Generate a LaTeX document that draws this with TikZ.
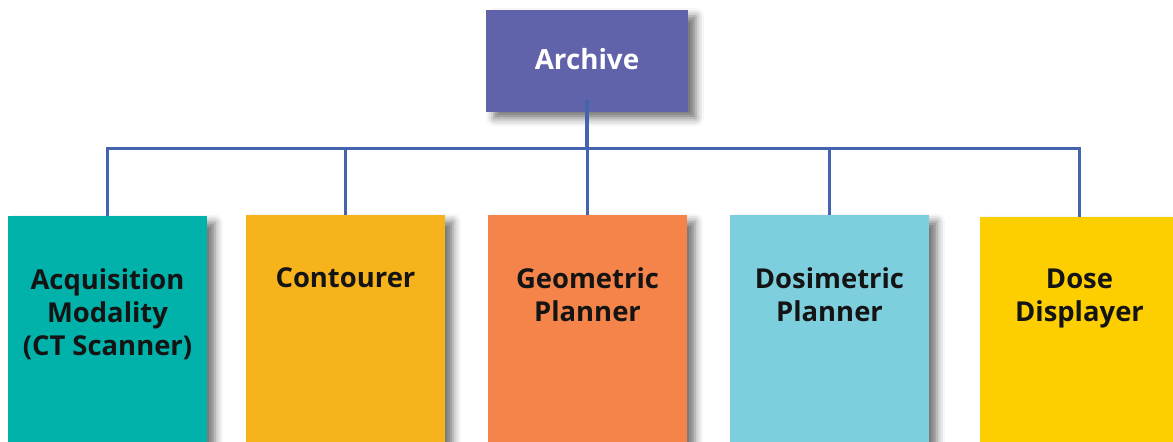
\documentclass[tikz,border=0pt]{standalone}
\usepackage{fontspec}
\setmainfont{Open Sans}
\usetikzlibrary{positioning,shadows.blur}

\definecolor{archblue}{HTML}{6163AA}
\definecolor{linkblue}{HTML}{4464AE}
\definecolor{acqteal}{HTML}{00B2A9}
\definecolor{contorange}{HTML}{F7B31C}
\definecolor{geoorange}{HTML}{F4844A}
\definecolor{dosicyan}{HTML}{7ECFDD}
\definecolor{doseyellow}{HTML}{FDCF00}

\tikzset{
  module/.style={rectangle, minimum width=3.98cm, minimum height=6cm, anchor=north, inner sep=0pt,
    blur shadow={shadow xshift=4.5pt, shadow yshift=-3.5pt, shadow blur radius=4.5pt, shadow opacity=55}},
  modlabel/.style={anchor=north, align=center, inner sep=0pt, text=black!92,
    font=\fontsize{15.6}{18.8}\selectfont\bfseries},
  link/.style={draw=linkblue, line width=1.8pt},
}

\begin{document}
\begin{tikzpicture}
    \useasboundingbox (0,0) rectangle (23.46,-8.84);
    \clip (0,0) rectangle (23.46,-8.84);

    \node[module, fill=archblue, anchor=center, minimum width=4.04cm, minimum height=2.04cm,
      text=white, font=\fontsize{15.8}{19}\selectfont\bfseries] (arch) at (11.74,-1.22) {\raisebox{2pt}{Archive}};

    % the five modules under the archive
    \foreach \name/\x/\y/\col/\txt in {
        acq/2.15/-4.32/acqteal/{Acquisition\\Modality\\(CT Scanner)},
        cont/6.91/-4.30/contorange/{Contourer},
        geo/11.75/-4.30/geoorange/{Geometric\\Planner},
        dosi/16.59/-4.30/dosicyan/{Dosimetric\\Planner},
        dose/21.59/-4.34/doseyellow/{Dose\\Displayer}} {
      \node[module, fill=\col] (\name) at (\x,\y) {};
      \node[modlabel, below=1.04cm of \name.north] (\name-txt) {\txt};
    }

    \draw[link] ([yshift=0.24cm]arch.south) -- ++(0,-0.96) coordinate (hub);
    \foreach \name in {acq,cont,geo,dosi,dose}
      \draw[link] (\name.north) |- (hub);
\end{tikzpicture}
\end{document}
